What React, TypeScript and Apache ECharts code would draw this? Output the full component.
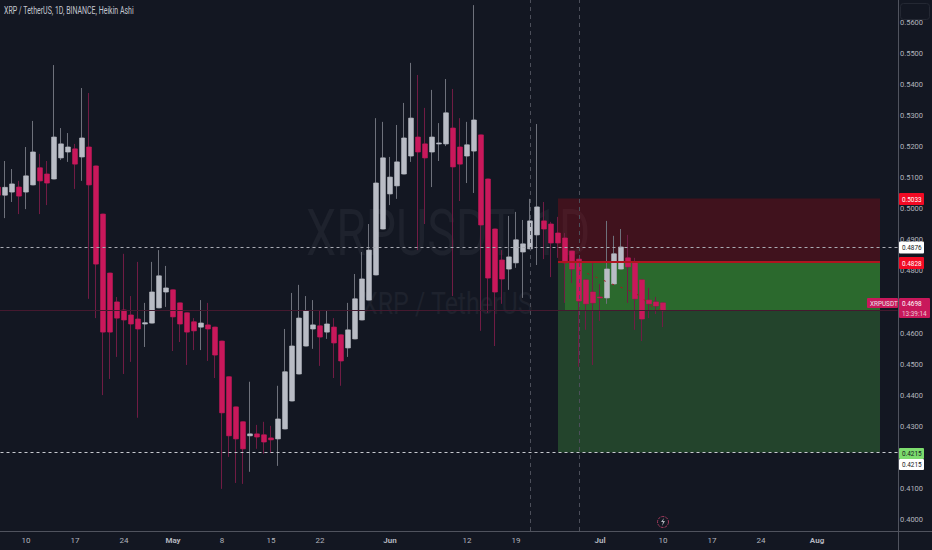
import React, { useEffect, useRef } from "react";
import * as echarts from "echarts";

const opens = [.5070,.5044,.5054,.5070,.5054,.5077,.5132,.5112,.5096,.5164,.5183,.5193,.5167,.5199,.5138,.4983,.4793,.4700,.4674,.4658,.4645,.4629,.4632,.4681,.4732,.4739,.4697,.4665,.4636,.4619,.4626,.4619,.4574,.4459,.4362,.4314,.4269,.4275,.4272,.4262,.4259,.4291,.4381,.4468,.4558,.4613,.4623,.4603,.4619,.4594,.4552,.4581,.4642,.4706,.4787,.4935,.5048,.5074,.5112,.5170,.5231,.5209,.5183,.5209,.5209,.5260,.5199,.5170,.5186,.5238,.5096,.4935,.4835,.4806,.4826,.4861,.4871,.4916,.4961,.4951,.4922,.4906,.4864,.4838,.4771,.4732,.4716,.4713,.4758,.4806,.4842,.4829,.4771,.4706,.4700,.4697];
const closes = [.5044,.5069,.5080,.5041,.5106,.5183,.5090,.5083,.5231,.5209,.5199,.5144,.5228,.5077,.4822,.4603,.4603,.4648,.4642,.4629,.4613,.4633,.4732,.4784,.4745,.4652,.4629,.4603,.4607,.4632,.4613,.4529,.4343,.4269,.4259,.4227,.4275,.4265,.4249,.4256,.4323,.4475,.4558,.4648,.4671,.4626,.4587,.4629,.4568,.4510,.4610,.4710,.4774,.4867,.5083,.5164,.5102,.5151,.5228,.5292,.5183,.5164,.5231,.5212,.5309,.5135,.5144,.5206,.5286,.4948,.4777,.4732,.4774,.4845,.4900,.4887,.4961,.5006,.4935,.4890,.4890,.4826,.4806,.4703,.4694,.4697,.4713,.4806,.4855,.4877,.4813,.4710,.4645,.4694,.4687,.4672];
const lows = [.5019,.4970,.5022,.4983,.4999,.5077,.4983,.5012,.5096,.5157,.5151,.5064,.5090,.4710,.4648,.4400,.4452,.4523,.4468,.4507,.4327,.4555,.4632,.4681,.4684,.4542,.4571,.4497,.4545,.4545,.4510,.4455,.4098,.4201,.4117,.4114,.4153,.4227,.4211,.4214,.4172,.4291,.4381,.4468,.4558,.4549,.4494,.4581,.4455,.4430,.4523,.4581,.4642,.4706,.4787,.4935,.5012,.5032,.5112,.5151,.4867,.4951,.5070,.5154,.5202,.4719,.5025,.5083,.5051,.4607,.4665,.4558,.4694,.4739,.4810,.4713,.4871,.4819,.4838,.4780,.4842,.4697,.4761,.4491,.4610,.4497,.4639,.4694,.4758,.4806,.4697,.4610,.4574,.4648,.4661,.4619];
const highs = [.5070,.5154,.5128,.5090,.5199,.5283,.5177,.5154,.5463,.5260,.5244,.5209,.5389,.5373,.5138,.4983,.4793,.4716,.4855,.4719,.4829,.4697,.4829,.4867,.4816,.4739,.4697,.4665,.4648,.4706,.4697,.4619,.4574,.4459,.4362,.4314,.4443,.4304,.4314,.4301,.4430,.4613,.4729,.4755,.4719,.4706,.4671,.4671,.4648,.4594,.4697,.4790,.4861,.4951,.5292,.5280,.5167,.5270,.5341,.5470,.5431,.5325,.5383,.5276,.5418,.5386,.5292,.5280,.5656,.5238,.5096,.4935,.4867,.4977,.4990,.4964,.5032,.5273,.5022,.4958,.4974,.4922,.4864,.4838,.4771,.4826,.4758,.4961,.4913,.4935,.4916,.4842,.4771,.4745,.4716,.4697];
const priceTicks = [.40,.41,.43,.44,.45,.46,.48,.49,.50,.51,.52,.53,.54,.55,.56];
const tickLabels: Record<string, string> = {
  "2023-04-10": "10", "2023-04-17": "17", "2023-04-24": "24", "2023-05-01": "May", "2023-05-08": "8",
  "2023-05-15": "15", "2023-05-22": "22", "2023-06-01": "Jun", "2023-06-12": "12", "2023-06-19": "19",
  "2023-07-01": "Jul", "2023-07-10": "10", "2023-07-17": "17", "2023-07-24": "24", "2023-08-01": "Aug",
};
const trendPoints: [string, number][] = [
  ["2023-06-28", .4803], ["2023-06-30", .4784], ["2023-07-03", .4755], ["2023-07-05", .4739],
  ["2023-07-07", .4716], ["2023-07-08", .4690], ["2023-07-10", .4670],
];
const stopLevel = 0.5033, entryLevel = 0.4828, targetLevel = 0.4215, dashedLevel = 0.4876, lastLevel = 0.4672;
const boxStart = "2023-06-25", boxInnerStart = "2023-06-26", boxEnd = "2023-08-10";
const sessionLines = ["2023-06-21", "2023-06-28"];

const categories: string[] = [];
for (let i = 0; i < 129; i++) categories.push(new Date(Date.UTC(2023, 3, 6 + i)).toISOString().slice(0, 10));

const FONT = "Roboto, sans-serif";
const BG = "#131722";
const RED = "#c9185b", GRAY = "#b9bcc5", RED_W = "#701c44", GRAY_W = "#6e717b";

function tag(x: number, y: number, w: number, h: number, bg: string, fg: string, text: string) {
  return [
    { type: "rect", z: 100, shape: { x, y, width: w, height: h, r: 1 }, style: { fill: bg } },
    { type: "text", z: 101, x: x + 3, y: y + h / 2, scaleX: 0.8, style: { text, fill: fg, font: `8px ${FONT}`, textVerticalAlign: "middle" } },
  ];
}

export default function App() {
  const ref = useRef<HTMLDivElement>(null);
  useEffect(() => {
    document.body.style.margin = "0";
    document.body.style.background = BG;
    echarts.graphic.registerShape("bolt", echarts.graphic.extendPath("M3 0 L0 4 L2 4 L1 8 L4 3 L2 3 Z", {}) as any);
    const chart = echarts.init(ref.current!, undefined, { renderer: "svg" });
    const wickRows = opens.map((o, i) => [o, closes[i], lows[i], highs[i]]);
    const bodyRows = opens.map((o, i) => [o, closes[i], Math.min(o, closes[i]), Math.max(o, closes[i])]);
    const level = (v: number, color: string, type: any, width = 1) => ({ yAxis: v, lineStyle: { color, type, width }, label: { show: false }, symbol: "none" });
    const trend = categories.map((c) => { const p = trendPoints.find((t) => t[0] === c); return p ? p[1] : null; });
    chart.setOption({
      animation: false,
      backgroundColor: BG,
      grid: { left: -5.5, top: 0, width: 903, height: 531, outerBoundsMode: "none" },
      xAxis: {
        type: "category", data: categories, boundaryGap: true,
        axisLine: { show: false }, axisTick: { show: false }, splitLine: { show: false },
        axisLabel: {
          interval: (_: number, v: string) => v in tickLabels, margin: 5, color: "#b2b5be", fontFamily: FONT, fontSize: 8,
          formatter: (v: string) => { const t = tickLabels[v] || ""; return /[a-z]/i.test(t) ? `{m|${t}}` : t; },
          rich: { m: { fontWeight: "bold", fontFamily: FONT, fontSize: 8, color: "#b2b5be" } },
        },
      },
      yAxis: {
        type: "value", position: "right", offset: 1, min: 0.39623, max: 0.56725,
        axisLine: { show: false }, axisTick: { show: false }, splitLine: { show: false },
        axisLabel: { customValues: priceTicks, margin: 1.5, color: "#b2b5be", fontFamily: FONT, fontSize: 7.5, formatter: (v: number) => v.toFixed(4) },
      },
      series: [
        {
          name: "zones", type: "line", z: 1, data: [], silent: true,
          markArea: {
            silent: true, z: 1,
            data: [
              [{ xAxis: boxStart, yAxis: stopLevel, itemStyle: { color: "rgba(200,5,15,0.25)" } }, { xAxis: boxEnd, yAxis: entryLevel }],
              [{ xAxis: boxStart, yAxis: entryLevel, itemStyle: { color: "#23442c" } }, { xAxis: boxEnd, yAxis: targetLevel }],
              [{ xAxis: boxInnerStart, yAxis: entryLevel, itemStyle: { color: "#2b692d" } }, { xAxis: boxEnd, yAxis: lastLevel }],
            ],
          },
        },
        {
          name: "wicks", type: "candlestick", z: 2, barWidth: 3, data: wickRows,
          itemStyle: { color: GRAY_W, color0: RED_W, borderColor: GRAY_W, borderColor0: RED_W, borderWidth: 1 },
        },
        {
          name: "bodies", type: "candlestick", z: 3, barWidth: 5, data: bodyRows,
          itemStyle: { color: GRAY, color0: RED, borderColor: GRAY, borderColor0: RED, borderWidth: 0.5 },
        },
        {
          name: "trend", type: "line", z: 4, data: trend, connectNulls: true, symbol: "none",
          lineStyle: { color: "#a3161f", width: 1, type: [2, 7] },
        },
        {
          name: "levels", type: "line", z: 5, data: [], silent: true,
          markLine: {
            silent: true, symbol: "none", z: 5, precision: 4,
            data: [
              level(dashedLevel, "#a9abb3", [3, 3]),
              level(targetLevel, "#c8cad0", [3, 3]),
              level(lastLevel, "#45192f", "solid"),
              { xAxis: sessionLines[0], lineStyle: { color: "#4c4f5a", type: [4, 4], width: 1 }, label: { show: false } },
              { xAxis: sessionLines[1], lineStyle: { color: "#4c4f5a", type: [4, 4], width: 1 }, label: { show: false } },
            ],
          },
        },
        {
          name: "entry", type: "line", z: 4, data: [], silent: true,
          markLine: {
            silent: true, symbol: "none", z: 4, precision: 4,
            data: [[
              { xAxis: boxStart, yAxis: entryLevel, lineStyle: { color: "#b0141f", width: 2, type: "solid" }, label: { show: false } },
              { xAxis: boxEnd, yAxis: entryLevel },
            ]],
          },
        },
      ],
      graphic: [
        { type: "text", z: 0, x: 306, y: 233, scaleX: 0.74, style: { text: "XRPUSDT, 1D", fill: "#1e222d", font: `65px Roboto, sans-serif`, textVerticalAlign: "middle" } },
        { type: "text", z: 0, x: 362, y: 303, scaleX: 0.78, style: { text: "XRP / TetherUS", fill: "#1e222d", font: `32px Roboto, sans-serif`, textVerticalAlign: "middle" } },
        { type: "text", z: 90, x: 4, y: 11, scaleX: 0.7, style: { text: "XRP / TetherUS, 1D, BINANCE, Heikin Ashi", fill: "#c3c6cf", font: `10px ${FONT}`, textVerticalAlign: "middle" } },
        { type: "line", z: 90, shape: { x1: 0, y1: 531.5, x2: 932, y2: 531.5 }, style: { stroke: "#50535e", lineWidth: 1 } },
        { type: "line", z: 90, shape: { x1: 898.5, y1: 0, x2: 898.5, y2: 550 }, style: { stroke: "#50535e", lineWidth: 1 } },
        { type: "rect", z: 90, shape: { x: 900.5, y: 3.5, width: 29, height: 16, r: 3 }, style: { fill: "none", stroke: "#242833", lineWidth: 1 } },
        { type: "circle", z: 90, shape: { cx: 663, cy: 522, r: 5.5 }, style: { fill: BG, stroke: "#a03a5c", lineWidth: 1, lineDash: [3, 1] } },
        { type: "bolt", z: 91, x: 661, y: 518, style: { fill: "#b2b5be" } },
        ...tag(899, 193, 25, 12, "#f20a24", "#ffffff", "0.5033"),
        ...tag(899, 241.5, 25, 12, "#ffffff", "#131722", "0.4876"),
        ...tag(899, 257, 25, 12, "#f20a24", "#ffffff", "0.4828"),
        ...tag(899, 448, 25, 11, "#7ddc6e", "#131722", "0.4215"),
        ...tag(899, 459, 25, 11, "#ffffff", "#131722", "0.4215"),
        ...tag(867, 298, 31, 10, "#c9185b", "#e8e8ec", "XRPUSDT"),
        { type: "rect", z: 100, shape: { x: 899, y: 298, width: 31, height: 20, r: 1 }, style: { fill: "#c9185b" } },
        { type: "text", z: 101, x: 902, y: 303.5, scaleX: 0.8, style: { text: "0.4698", fill: "#ffffff", font: `8px ${FONT}`, textVerticalAlign: "middle" } },
        { type: "text", z: 101, x: 902, y: 313, scaleX: 0.8, style: { text: "13:39:14", fill: "#e8c8d6", font: `8px ${FONT}`, textVerticalAlign: "middle" } },
      ],
    });
    return () => chart.dispose();
  }, []);
  return <div ref={ref} style={{ position: "fixed", left: 0, top: 0, width: 932, height: 550 }} />;
}
